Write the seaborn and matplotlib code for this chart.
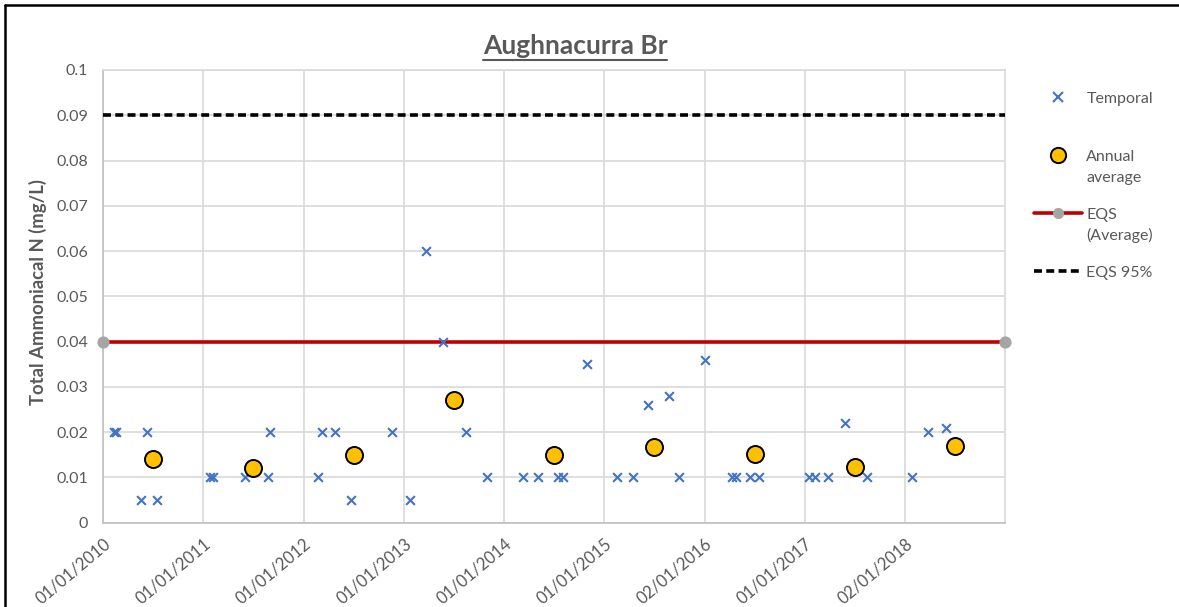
import matplotlib
matplotlib.use("Agg")
import matplotlib.pyplot as plt
from matplotlib.lines import Line2D
import seaborn as sns
import pandas as pd

# ---------------- data ----------------
temporal_dates = [
    "2010-02-10", "2010-02-17", "2010-05-20", "2010-06-10", "2010-07-15",
    "2011-01-24", "2011-02-06", "2011-06-01", "2011-08-24", "2011-09-02",
    "2012-02-23", "2012-03-08", "2012-04-25", "2012-06-21", "2012-11-18",
    "2013-01-24", "2013-03-21", "2013-05-24", "2013-08-16", "2013-10-29",
    "2014-03-10", "2014-05-05", "2014-07-17", "2014-08-04", "2014-10-29",
    "2015-02-15", "2015-04-17", "2015-06-08", "2015-08-25", "2015-10-02",
    "2016-01-03", "2016-04-09", "2016-04-27", "2016-06-14", "2016-07-18",
    "2017-01-18", "2017-02-09", "2017-03-27", "2017-05-27", "2017-08-16",
    "2018-01-27", "2018-03-28", "2018-06-01",
]
temporal_values = [
    0.02, 0.02, 0.005, 0.02, 0.005,
    0.01, 0.01, 0.01, 0.01, 0.02,
    0.01, 0.02, 0.02, 0.005, 0.02,
    0.005, 0.06, 0.04, 0.02, 0.01,
    0.01, 0.01, 0.01, 0.01, 0.035,
    0.01, 0.01, 0.026, 0.028, 0.01,
    0.036, 0.01, 0.01, 0.01, 0.01,
    0.01, 0.01, 0.01, 0.022, 0.01,
    0.01, 0.02, 0.021,
]
annual_dates = ["2010-07-02", "2011-07-02", "2012-07-02", "2013-07-02", "2014-07-02",
                "2015-07-02", "2016-07-02", "2017-07-02", "2018-07-02"]
annual_values = [0.014, 0.012, 0.015, 0.027, 0.015, 0.0168, 0.0152, 0.0124, 0.0170]

eqs_dates = ["2010-01-01", "2018-12-31"]
eqs_average = [0.04, 0.04]
eqs_95 = [0.09, 0.09]

tick_dates = ["2010-01-01", "2011-01-01", "2012-01-01", "2013-01-01", "2014-01-01",
              "2015-01-01", "2016-01-02", "2017-01-01", "2018-01-02"]
tick_labels = ["01/01/2010", "01/01/2011", "01/01/2012", "01/01/2013", "01/01/2014",
               "01/01/2015", "02/01/2016", "01/01/2017", "02/01/2018"]
y_ticks = [0, 0.01, 0.02, 0.03, 0.04, 0.05, 0.06, 0.07, 0.08, 0.09, 0.1]
y_tick_labels = ["0", "0.01", "0.02", "0.03", "0.04", "0.05", "0.06", "0.07", "0.08", "0.09", "0.1"]

title = "Aughnacurra Br"
y_label = "Total Ammoniacal N (mg/L)"
legend_first_lines = ["Temporal", "Annual", "EQS", "EQS 95%"]
legend_second_lines = ["", "average", "(Average)", ""]

# ---------------- frames ----------------
df_t = pd.DataFrame({"date": pd.to_datetime(temporal_dates), "value": temporal_values})
df_a = pd.DataFrame({"date": pd.to_datetime(annual_dates), "value": annual_values})
df_e = pd.DataFrame({"date": pd.to_datetime(eqs_dates), "avg": eqs_average, "p95": eqs_95})

sns.set_theme(style="white")
plt.rcParams["font.family"] = ["Lato", "DejaVu Sans"]

TXT = "#595959"
GRID = "#D9D9D9"
W, H = 1179, 607

fig = plt.figure(figsize=(W / 100, H / 100), dpi=100)
ax = fig.add_axes([0.0876, 0.1389, 0.7646, 0.7458])

ax.grid(True, color=GRID, linewidth=1.2, zorder=0)
ax.set_axisbelow(True)

sns.lineplot(data=df_e, x="date", y="p95", ax=ax, color="black", linewidth=2.6,
             linestyle=(0, (2.2, 1.2)), zorder=3, legend=False)
sns.lineplot(data=df_e, x="date", y="avg", ax=ax, color="#C00000", linewidth=2.6,
             marker="o", markersize=8, markerfacecolor="#A5A5A5", markeredgecolor="#A5A5A5",
             zorder=3, legend=False, clip_on=False)
sns.scatterplot(data=df_t, x="date", y="value", ax=ax, marker="x", color="#4472C4",
                s=40, linewidth=1.5, zorder=4, legend=False)
sns.scatterplot(data=df_a, x="date", y="value", ax=ax, marker="o", color="#FFC000",
                edgecolor="black", linewidth=1.4, s=150, zorder=5, legend=False)

ax.set_xlim(pd.Timestamp(eqs_dates[0]), pd.Timestamp(eqs_dates[1]))
ax.set_ylim(0, 0.1)
ax.set_yticks(y_ticks)
ax.set_yticklabels(y_tick_labels)
ax.set_xticks(pd.to_datetime(tick_dates))
ax.set_xticklabels(tick_labels, rotation=40, ha="right", rotation_mode="anchor")
ax.tick_params(axis="x", length=5, width=1.2, color="#BFBFBF", labelcolor=TXT, labelsize=12, pad=4)
ax.tick_params(axis="y", length=0, labelcolor=TXT, labelsize=11.5, pad=11)
ax.set_xlabel("")
ax.set_ylabel(y_label, fontsize=13.3, fontweight="bold", color=TXT)
ax.yaxis.set_label_coords(-0.0625, 0.51)

for side in ["top", "right", "left", "bottom"]:
    ax.spines[side].set_color("#BFBFBF")
    ax.spines[side].set_linewidth(1.2)
ax.spines["top"].set_color(GRID)
ax.spines["right"].set_color(GRID)

# title (centred on the chart area) with underline
t = fig.text(575 / W, 1 - 53.5 / H, title, fontsize=19, fontweight="bold", color=TXT,
             ha="center", va="baseline")

handles = [
    Line2D([], [], marker="x", color="#4472C4", linestyle="none", markersize=7, markeredgewidth=1.5),
    Line2D([], [], marker="o", markerfacecolor="#FFC000", markeredgecolor="black",
           linestyle="none", markersize=11, markeredgewidth=1.4),
    Line2D([], [], color="#C00000", linewidth=2.6, marker="o", markersize=7,
           markerfacecolor="#A5A5A5", markeredgecolor="#A5A5A5"),
    Line2D([], [], color="black", linewidth=2.6, linestyle=(0, (2.2, 1.2))),
]
leg = fig.legend(handles, legend_first_lines, loc="upper left", bbox_to_anchor=(1020 / W, 1 - 77 / H),
                 frameon=False, fontsize=11.5, labelspacing=2.75, handlelength=3.0,
                 handletextpad=0.25, labelcolor=TXT)

fig.canvas.draw()
inv = fig.transFigure.inverted()
tb = t.get_window_extent()
x0, _ = inv.transform((tb.x0, tb.y0))
x1, _ = inv.transform((tb.x1, tb.y0))
uy = 1 - 59.5 / H
fig.add_artist(Line2D([x0, x1], [uy, uy], color=TXT, linewidth=1.5))

for txt, second in zip(leg.get_texts(), legend_second_lines):
    if second:
        bb = txt.get_window_extent()
        fx, fy = inv.transform((bb.x0, bb.y0))
        fig.text(fx, fy - 21.5 / H, second, fontsize=11.5, color=TXT, ha="left", va="bottom")

# partial outer border (top and left)
fig.add_artist(Line2D([5 / W, 1.0], [1 - 4.5 / H, 1 - 4.5 / H], color="black", linewidth=1.8))
fig.add_artist(Line2D([5 / W, 5 / W], [0, 1 - 4.5 / H], color="black", linewidth=1.8))

fig.savefig("out.png", dpi=100)
